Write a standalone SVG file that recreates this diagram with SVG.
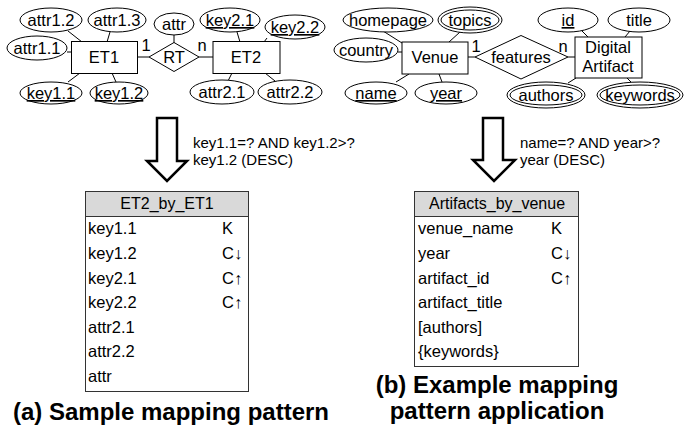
<svg xmlns="http://www.w3.org/2000/svg" width="684" height="431" viewBox="0 0 684 431">
<style>
text{font-family:"Liberation Sans",Arial,sans-serif;fill:#000}
.er{font-size:16.5px;text-anchor:middle}
.u{text-decoration:underline}
.sh{fill:#fff;stroke:#000;stroke-width:1}
.ln{stroke:#000;stroke-width:1;fill:none}
.arr{fill:#fff;stroke:#000;stroke-width:2.5;stroke-linejoin:miter}
.ann{font-size:15px}
.row{font-size:16.5px}
.hdr{font-size:16px;text-anchor:middle}
.tb{fill:#fff;stroke:#333;stroke-width:1}
.th{fill:#d9d9d9;stroke:#333;stroke-width:1}
.cap{font-size:24px;font-weight:bold;text-anchor:middle}
</style>
<rect width="684" height="431" fill="#fff"/>
<g id="connectors">
<line class="ln" x1="68" y1="31" x2="82" y2="42"/>
<line class="ln" x1="110" y1="32" x2="107" y2="42"/>
<line class="ln" x1="67" y1="52" x2="72" y2="52"/>
<line class="ln" x1="80" y1="73" x2="68" y2="82"/>
<line class="ln" x1="112" y1="73" x2="116" y2="82"/>
<line class="ln" x1="174" y1="35" x2="174" y2="43"/>
<line class="ln" x1="237" y1="32" x2="240" y2="42"/>
<line class="ln" x1="267" y1="38" x2="264" y2="42"/>
<line class="ln" x1="232" y1="73" x2="228" y2="81"/>
<line class="ln" x1="265" y1="73" x2="275" y2="81"/>
<line class="ln" x1="137" y1="57" x2="149" y2="57"/>
<line class="ln" x1="199" y1="57" x2="213" y2="57"/>
<line class="ln" x1="383" y1="31" x2="402" y2="43"/>
<line class="ln" x1="460" y1="32" x2="449" y2="42"/>
<line class="ln" x1="398" y1="52" x2="402" y2="52"/>
<line class="ln" x1="396" y1="82" x2="409" y2="74"/>
<line class="ln" x1="442" y1="82" x2="439" y2="74"/>
<line class="ln" x1="468" y1="57" x2="475" y2="57"/>
<line class="ln" x1="568" y1="57" x2="575" y2="57"/>
<line class="ln" x1="582" y1="31" x2="588" y2="37"/>
<line class="ln" x1="630" y1="31" x2="625" y2="37"/>
<line class="ln" x1="568" y1="83" x2="576" y2="78"/>
<line class="ln" x1="627" y1="78" x2="632" y2="83"/>
</g>
<!-- Left ER -->
<g id="attr1_2"><ellipse class="sh" cx="51" cy="20" rx="31" ry="12"/><text class="er" x="51" y="26">attr1.2</text></g>
<g id="attr1_3"><ellipse class="sh" cx="117" cy="20" rx="29" ry="12"/><text class="er" x="117" y="26">attr1.3</text></g>
<g id="attr1_1"><ellipse class="sh" cx="37" cy="48" rx="30" ry="12"/><text class="er" x="37" y="54">attr1.1</text></g>
<g id="attr"><ellipse class="sh" cx="174" cy="24" rx="20" ry="11"/><text class="er" x="174" y="30">attr</text></g>
<g id="key2_1"><ellipse class="sh" cx="230" cy="20" rx="30" ry="12"/><text class="er u" x="230" y="26">key2.1</text></g>
<g id="key2_2"><ellipse class="sh" cx="295" cy="27" rx="30" ry="12"/><text class="er u" x="295" y="33">key2.2</text></g>
<g id="ET1"><rect class="sh" x="71.5" y="41.5" width="66" height="32"/><text class="er" x="104" y="63">ET1</text></g>
<g id="RT"><polygon class="sh" points="149,57 174,42.5 199,57 174,71.5"/><text class="er" x="174" y="63">RT</text><text class="er" x="146" y="51">1</text><text class="er" x="202" y="51">n</text></g>
<g id="ET2"><rect class="sh" x="213" y="41.5" width="67" height="32"/><text class="er" x="246" y="63">ET2</text></g>
<g id="key1_1"><ellipse class="sh" cx="51" cy="93" rx="31" ry="11"/><text class="er u" x="51" y="99">key1.1</text></g>
<g id="key1_2"><ellipse class="sh" cx="119" cy="93" rx="29" ry="11"/><text class="er u" x="119" y="99">key1.2</text></g>
<g id="attr2_1"><ellipse class="sh" cx="222" cy="92" rx="32" ry="12"/><text class="er" x="222" y="98">attr2.1</text></g>
<g id="attr2_2"><ellipse class="sh" cx="290" cy="92" rx="32" ry="12"/><text class="er" x="290" y="98">attr2.2</text></g>
<!-- Right ER -->
<g id="homepage"><ellipse class="sh" cx="388" cy="20" rx="45" ry="12"/><text class="er" x="388" y="26">homepage</text></g>
<g id="topics"><ellipse class="sh" cx="470" cy="20" rx="32" ry="13"/><ellipse class="sh" cx="470" cy="20" rx="29" ry="10"/><text class="er" x="470" y="26">topics</text></g>
<g id="country"><ellipse class="sh" cx="366" cy="50" rx="32" ry="12"/><text class="er" x="366" y="56">country</text></g>
<g id="Venue"><rect class="sh" x="402" y="42" width="66" height="32"/><text class="er" x="435" y="63">Venue</text></g>
<g id="features"><polygon class="sh" points="475,57 521,35.5 568,57 521,79"/><text class="er" x="521" y="63">features</text><text class="er" x="476" y="52">1</text><text class="er" x="563" y="52">n</text></g>
<g id="DigitalArtifact"><rect class="sh" x="575" y="37" width="67" height="41"/><text class="er" x="608" y="53">Digital</text><text class="er" x="608" y="72">Artifact</text></g>
<g id="id"><ellipse class="sh" cx="568" cy="20" rx="30" ry="12"/><text class="er u" x="568" y="26">id</text></g>
<g id="title"><ellipse class="sh" cx="639" cy="20" rx="31" ry="12"/><text class="er" x="639" y="26">title</text></g>
<g id="name"><ellipse class="sh" cx="376" cy="93" rx="31" ry="11"/><text class="er u" x="376" y="99">name</text></g>
<g id="year"><ellipse class="sh" cx="446" cy="93" rx="31" ry="11"/><text class="er u" x="446" y="99">year</text></g>
<g id="authors"><ellipse class="sh" cx="546" cy="95" rx="39" ry="13"/><ellipse class="sh" cx="546" cy="95" rx="36" ry="10"/><text class="er" x="546" y="101">authors</text></g>
<g id="keywords"><ellipse class="sh" cx="640" cy="95" rx="43" ry="13"/><ellipse class="sh" cx="640" cy="95" rx="40" ry="10"/><text class="er" x="640" y="101">keywords</text></g>
<!-- Arrows -->
<g id="arrowA"><polygon class="arr" points="157,118 177,118 177,161 187,161 167,181 147,161 157,161"/>
<text class="ann" x="193" y="148">key1.1=? AND key1.2&gt;?</text><text class="ann" x="193" y="165">key1.2 (DESC)</text></g>
<g id="arrowB"><polygon class="arr" points="483,118 503,118 503,160 515,160 494,181 473,160 483,160"/>
<text class="ann" x="520" y="148">name=? AND year&gt;?</text><text class="ann" x="520" y="165">year (DESC)</text></g>
<!-- Table A -->
<g id="tableA">
<rect class="tb" x="85.5" y="191.5" width="163" height="200"/>
<rect class="th" x="85.5" y="191.5" width="163" height="25"/>
<text class="hdr" x="167" y="209">ET2_by_ET1</text>
<text class="row" x="88" y="234">key1.1</text><text class="row" x="222" y="234">K</text>
<text class="row" x="88" y="259">key1.2</text><text class="row" x="222" y="259">C↓</text>
<text class="row" x="88" y="283.5">key2.1</text><text class="row" x="222" y="283.5">C↑</text>
<text class="row" x="88" y="308">key2.2</text><text class="row" x="222" y="308">C↑</text>
<text class="row" x="88" y="332.5">attr2.1</text>
<text class="row" x="88" y="357">attr2.2</text>
<text class="row" x="88" y="382">attr</text>
</g>
<!-- Table B -->
<g id="tableB">
<rect class="tb" x="414.5" y="191.5" width="164" height="175"/>
<rect class="th" x="414.5" y="191.5" width="164" height="25"/>
<text class="hdr" x="497" y="209">Artifacts_by_venue</text>
<text class="row" x="418" y="234">venue_name</text><text class="row" x="551" y="234">K</text>
<text class="row" x="418" y="259">year</text><text class="row" x="551" y="259">C↓</text>
<text class="row" x="418" y="283.5">artifact_id</text><text class="row" x="551" y="283.5">C↑</text>
<text class="row" x="418" y="308">artifact_title</text>
<text class="row" x="418" y="332.5">[authors]</text>
<text class="row" x="418" y="357">{keywords}</text>
</g>
<g id="captions">
<text class="cap" x="171" y="420">(a) Sample mapping pattern</text>
<text class="cap" x="497" y="393">(b) Example mapping</text>
<text class="cap" x="497" y="419">pattern application</text>
</g>
</svg>
